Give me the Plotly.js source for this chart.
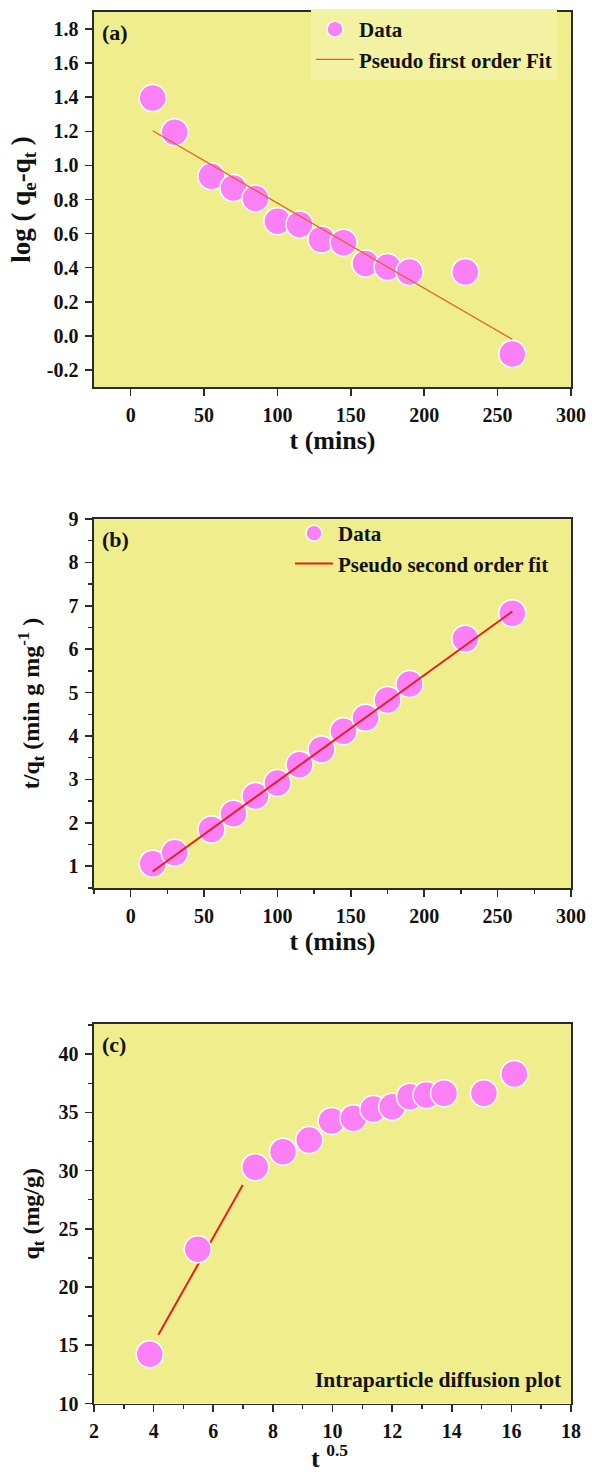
<!DOCTYPE html>
<html>
<head>
<meta charset="utf-8">
<script src="https://cdn.plot.ly/plotly-3.0.1.min.js"></script>
<style>html,body{margin:0;padding:0;background:#fff;}#chart{width:592px;height:1475px;}</style>
</head>
<body>
<div id="chart"></div>
<script>
// ---- data ----
const tMins = [15, 30, 55, 70, 85, 100, 115, 130, 145, 160, 175, 190, 228, 260];
const logQeQt = [1.395, 1.195, 0.936, 0.868, 0.806, 0.673, 0.654, 0.566, 0.547, 0.424, 0.404, 0.375, 0.375, -0.106];
const fit1X = [15, 260];
const fit1Y = [1.203, -0.02];

const tOverQt = [1.06, 1.31, 1.85, 2.21, 2.62, 2.92, 3.34, 3.69, 4.11, 4.42, 4.83, 5.2, 6.24, 6.83];
const fit2X = [15, 260];
const fit2Y = [0.88, 6.87];

const sqrtT = [3.87, 5.48, 7.41, 8.34, 9.22, 9.97, 10.7, 11.37, 12.0, 12.6, 13.15, 13.74, 15.08, 16.1];
const qt = [14.23, 23.25, 30.3, 31.63, 32.64, 34.27, 34.5, 35.3, 35.5, 36.36, 36.5, 36.65, 36.65, 38.3];
const fit3X = [4.16, 6.99];
const fit3Y = [15.9, 28.77];

const yTickValsA = [-0.2, 0.0, 0.2, 0.4, 0.6, 0.8, 1.0, 1.2, 1.4, 1.6, 1.8];
const yTickTextA = ["-0.2", "0.0", "0.2", "0.4", "0.6", "0.8", "1.0", "1.2", "1.4", "1.6", "1.8"];

// ---- style ----
const W = 592, H = 1475;
const FONT = "Liberation Serif, Times New Roman, serif";
const PINK = "#fb80f6";
const BG = "#f0ee8c";
const px = v => v / W;
const py = v => 1 - v / H;

const marker = {size: 27, color: PINK, line: {color: "#ffffff", width: 1.5}};

const traces = [
  {x: tMins, y: logQeQt, type: "scatter", mode: "markers", name: "Data", marker: marker, xaxis: "x", yaxis: "y", legend: "legend"},
  {x: fit1X, y: fit1Y, type: "scatter", mode: "lines", name: "Pseudo first order Fit", line: {color: "#e0602e", width: 1.2}, xaxis: "x", yaxis: "y", legend: "legend"},
  {x: tMins, y: tOverQt, type: "scatter", mode: "markers", name: "Data", marker: marker, xaxis: "x2", yaxis: "y2", legend: "legend2"},
  {x: fit2X, y: fit2Y, type: "scatter", mode: "lines", name: "Pseudo second order fit", line: {color: "#e3201e", width: 2}, xaxis: "x2", yaxis: "y2", legend: "legend2"},
  {x: fit3X, y: fit3Y, type: "scatter", mode: "lines", name: "fit", showlegend: false, line: {color: "#e3201e", width: 2}, xaxis: "x3", yaxis: "y3"},
  {x: sqrtT, y: qt, type: "scatter", mode: "markers", name: "Data", showlegend: false, marker: marker, xaxis: "x3", yaxis: "y3"}
];

const tickFont = {family: FONT, size: 20, color: "#111", weight: "bold"};
const xTitleFont = {family: FONT, size: 26, color: "#111", weight: "bold"};
const yTitleFont = {family: FONT, size: 24, color: "#111", weight: "bold"};
const legFont = {family: FONT, size: 21, color: "#111", weight: "bold"};
const minorT = {ticklen: 4, tickwidth: 1.4, tickcolor: "#2a2a2a", ticks: "outside"};

function ax(extra) {
  return Object.assign({
    showline: true, linecolor: "#2a2a2a", linewidth: 1.6, mirror: true,
    ticks: "outside", ticklen: 7, tickwidth: 1.6, tickcolor: "#2a2a2a",
    showgrid: false, zeroline: false, tickfont: tickFont, automargin: false,
    fixedrange: true
  }, extra);
}

const layout = {
  width: W, height: H,
  margin: {l: 0, r: 0, t: 0, b: 0},
  paper_bgcolor: "#ffffff",
  plot_bgcolor: BG,
  font: {family: FONT, weight: "bold", color: "#111"},
  showlegend: true,
  xaxis: ax({domain: [px(94), px(571)], anchor: "y", range: [-25, 300], tickmode: "linear", tick0: 0, dtick: 50, ticklabelstandoff: 2,
    title: {text: "t (mins)", font: xTitleFont, standoff: 4}}),
  yaxis: ax({domain: [py(387), py(12)], anchor: "x", range: [-0.3, 1.9], tickmode: "array", tickvals: yTickValsA, ticktext: yTickTextA, ticklabelstandoff: 3,
    title: {text: "log ( q<sub>e</sub>-q<sub>t</sub> )", font: {family: FONT, size: 27, color: "#111", weight: "bold"}, standoff: 8}}),
  xaxis2: ax({domain: [px(94), px(571)], anchor: "y2", range: [-25, 300], tickmode: "linear", tick0: 0, dtick: 50, ticklabelstandoff: 2,
    minor: Object.assign({dtick: 25}, minorT),
    title: {text: "t (mins)", font: xTitleFont, standoff: 4}}),
  yaxis2: ax({domain: [py(888), py(519)], anchor: "x2", range: [0.5, 9], tickmode: "linear", tick0: 1, dtick: 1, ticklabelstandoff: 3,
    minor: Object.assign({dtick: 0.5}, minorT),
    title: {text: "t/q<sub>t</sub> (min g mg<sup>-1</sup> )", font: yTitleFont, standoff: 22}}),
  xaxis3: ax({domain: [px(94), px(571)], anchor: "y3", range: [2, 18], tickmode: "linear", tick0: 2, dtick: 2, ticklabelstandoff: 2,
    minor: Object.assign({dtick: 1}, minorT)}),
  yaxis3: ax({domain: [py(1403.5), py(1024)], anchor: "x3", range: [10, 42.6], tickmode: "linear", tick0: 10, dtick: 5, ticklabelstandoff: 3,
    minor: Object.assign({dtick: 2.5}, minorT),
    title: {text: "q<sub>t</sub> (mg/g)", font: yTitleFont, standoff: 12}}),
  legend: {x: px(311), y: py(9), xanchor: "left", yanchor: "top", bgcolor: "#f3f1a2", borderwidth: 0,
    itemwidth: 38, font: legFont, tracegroupgap: 0},
  legend2: {x: px(290), y: py(513), xanchor: "left", yanchor: "top", bgcolor: "rgba(0,0,0,0)", borderwidth: 0,
    itemwidth: 38, font: legFont, tracegroupgap: 0},
  annotations: [
    {text: "(a)", xref: "x domain", yref: "y domain", x: 0.012, y: 0.985, xanchor: "left", yanchor: "top", showarrow: false, font: {family: FONT, size: 22, color: "#111", weight: "bold"}},
    {text: "(b)", xref: "x2 domain", yref: "y2 domain", x: 0.012, y: 0.985, xanchor: "left", yanchor: "top", showarrow: false, font: {family: FONT, size: 22, color: "#111", weight: "bold"}},
    {text: "(c)", xref: "x3 domain", yref: "y3 domain", x: 0.012, y: 0.985, xanchor: "left", yanchor: "top", showarrow: false, font: {family: FONT, size: 22, color: "#111", weight: "bold"}},
    {text: "Intraparticle diffusion plot", xref: "x3 domain", yref: "y3 domain", x: 0.985, y: 0.025, xanchor: "right", yanchor: "bottom", showarrow: false, font: {family: FONT, size: 21.5, color: "#111", weight: "bold"}},
    {text: "t <span style=\"font-size:25px\"><sup>0.5</sup></span>", xref: "paper", yref: "paper", x: px(329), y: 0, xanchor: "center", yanchor: "bottom", showarrow: false, font: xTitleFont}
  ]
};

Plotly.newPlot("chart", traces, layout, {displayModeBar: false, staticPlot: true});
</script>
</body>
</html>
